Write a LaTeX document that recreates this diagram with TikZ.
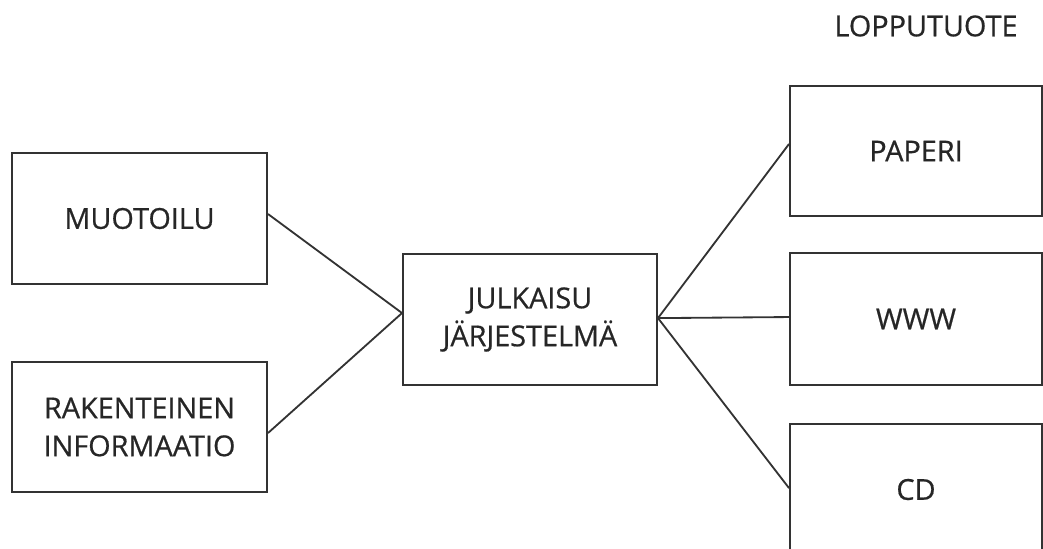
\documentclass[tikz,border=0pt]{standalone}
\usepackage{fontspec}
\setmainfont{Open Sans}
\newfontfamily\labelfont{Open Sans}[FakeBold=0.6]
\definecolor{linegray}{HTML}{333333}
\definecolor{textgray}{HTML}{262626}

\begin{document}
\begin{tikzpicture}[x=0.025cm,y=-0.025cm,
	box/.style={draw=linegray,line width=1.4pt,fill=white,align=center,text=textgray,
		font=\labelfont\fontsize{20.5}{27}\selectfont,inner sep=0pt,minimum width=#1},
	box/.default={255*0.025cm},
	link/.style={draw=linegray,line width=1.3pt}]
	\useasboundingbox (0,0) rectangle (1043,548);
	\clip (0,0) rectangle (1043,548);

	\node[box,minimum height=131*0.025cm] (muotoilu) at (139.5,218.5) {MUOTOILU};
	\node[box,minimum height=130*0.025cm] (rakenteinen) at (139.5,427) {RAKENTEINEN\\INFORMAATIO};
	\node[box=254*0.025cm,minimum height=131*0.025cm] (julkaisu) at (530,319.5) {JULKAISU\\JÄRJESTELMÄ};
	\node[box=252*0.025cm,minimum height=130*0.025cm] (paperi) at (916,151) {PAPERI};
	\node[box=252*0.025cm,minimum height=132*0.025cm] (www) at (916,319) {WWW};
	\node[box=252*0.025cm,minimum height=131*0.025cm] (cd) at (916,489.5) {CD};
	\node[text=textgray,font=\labelfont\fontsize{20.5}{27}\selectfont] (lopputuote) at (926,26) {LOPPUTUOTE};

	\draw[link] ([yshift=3.2pt]muotoilu.east) -- ([yshift=4.6pt]julkaisu.west);
	\draw[link] ([yshift=-4.3pt]rakenteinen.east) -- ([yshift=4.6pt]julkaisu.west);
	\draw[link] ([yshift=1pt]julkaisu.east) -- ([yshift=5pt]paperi.west);
	\draw[link] ([yshift=1pt]julkaisu.east) -- ([yshift=1.4pt]www.west);
	\draw[link] ([yshift=1pt]julkaisu.east) -- ([yshift=1pt]cd.west);
\end{tikzpicture}
\end{document}
